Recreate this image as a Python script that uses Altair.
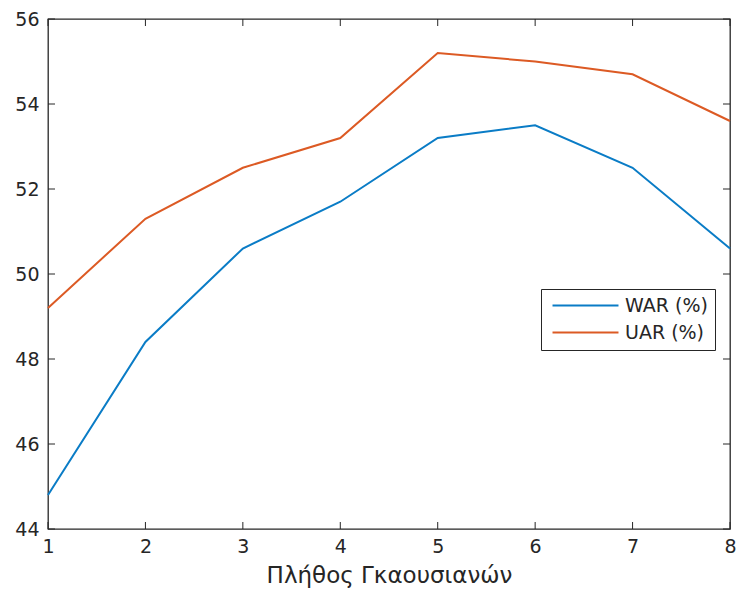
import altair as alt
import pandas as pd

# ---- data ----
x_vals = [1, 2, 3, 4, 5, 6, 7, 8]
war = [44.8, 48.4, 50.6, 51.7, 53.2, 53.5, 52.5, 50.6]
uar = [49.2, 51.3, 52.5, 53.2, 55.2, 55.0, 54.7, 53.6]
series_names = ["WAR (%)", "UAR (%)"]
series_colors = ["#0A7CC6", "#DC5A24"]
x_ticks = [1, 2, 3, 4, 5, 6, 7, 8]
y_ticks = [44, 46, 48, 50, 52, 54, 56]
x_title = "Πλήθος Γκαουσιανών"

df = pd.DataFrame({
    "x": x_vals * 2,
    "value": war + uar,
    "series": [series_names[0]] * len(x_vals) + [series_names[1]] * len(x_vals),
})
xt_df = pd.DataFrame({"t": x_ticks})
yt_df = pd.DataFrame({"t": y_ticks})

W, H = 682, 510
TL = 7
FONT = "DejaVu Sans"
AX = "#262626"

xs = alt.Scale(domain=[1, 8], nice=False, zero=False)
ys = alt.Scale(domain=[44, 56], nice=False, zero=False)

lines = alt.Chart(df).mark_line(strokeWidth=2).encode(
    x=alt.X("x:Q", scale=xs, axis=alt.Axis(
        values=x_ticks, format="d", title=x_title, ticks=False, domain=False, grid=False,
        labelFlush=False,
        labelFontSize=19, labelColor=AX, labelFont=FONT, labelPadding=8,
        titleFontSize=23, titleFont=FONT, titleColor=AX, titleFontWeight="normal", titlePadding=8)),
    y=alt.Y("value:Q", scale=ys, axis=alt.Axis(
        values=y_ticks, format="d", title=None, ticks=False, domain=False, grid=False,
        labelFlush=False,
        labelFontSize=19, labelColor=AX, labelFont=FONT, labelPadding=9)),
    color=alt.Color("series:N", scale=alt.Scale(domain=series_names, range=series_colors),
                    legend=alt.Legend(
                        title=None, orient="none", legendX=493, legendY=270,
                        strokeColor=AX, fillColor="white", padding=7,
                        symbolType="M-4,0H4", symbolSize=272, symbolStrokeWidth=2,
                        symbolOffset=28, labelOffset=30,
                        labelFontSize=19, labelFont=FONT, labelColor=AX, rowPadding=7)),
)

xr = alt.Chart(xt_df).mark_rule(color=AX, strokeWidth=1)
yr = alt.Chart(yt_df).mark_rule(color=AX, strokeWidth=1)
xenc = alt.X("t:Q", scale=xs, axis=None)
yenc = alt.Y("t:Q", scale=ys, axis=None)

t_bottom = xr.encode(x=xenc, y=alt.value(H), y2=alt.value(H - TL))
t_top = xr.encode(x=xenc, y=alt.value(0), y2=alt.value(TL))
t_left = yr.encode(y=yenc, x=alt.value(0), x2=alt.value(TL))
t_right = yr.encode(y=yenc, x=alt.value(W), x2=alt.value(W - TL))

chart = alt.layer(lines, t_bottom, t_top, t_left, t_right).resolve_axis(
    x="independent", y="independent"
).properties(
    width=W, height=H,
    background="white",
    autosize=alt.AutoSizeParams(type="none"),
    padding={"left": 48, "top": 19, "right": 6, "bottom": 65},
).configure_view(stroke=AX, strokeWidth=1.3)

chart.save("out.html", embed_options={"renderer": "svg", "actions": False})
